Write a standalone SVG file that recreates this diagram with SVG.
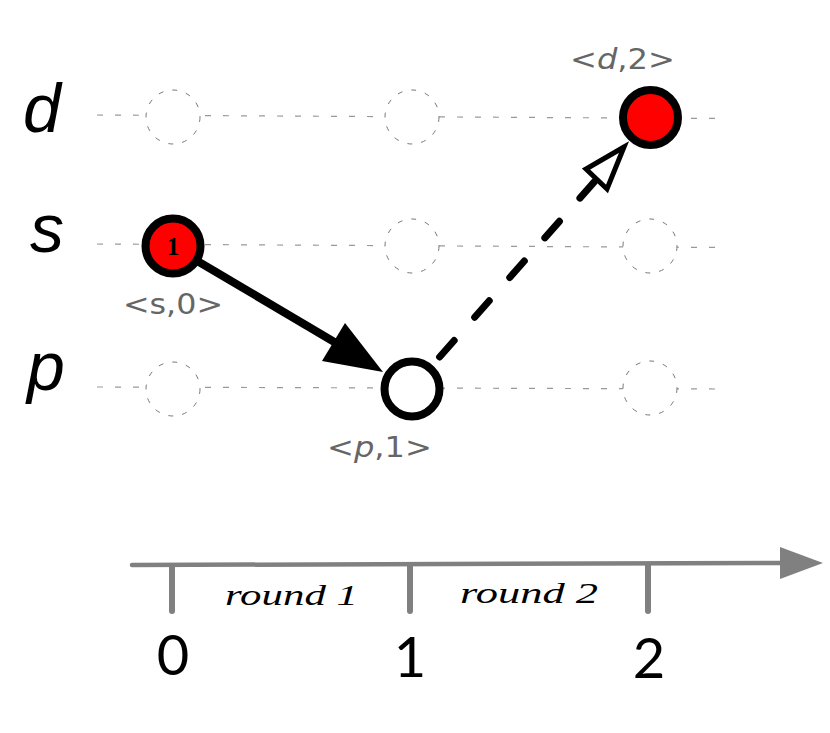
<svg xmlns="http://www.w3.org/2000/svg" width="830" height="733" viewBox="0 0 830 733">
<style>
.grid{stroke:#999;stroke-width:1.2;stroke-dasharray:6 12;fill:none}
.slot{stroke:#777;stroke-width:1;stroke-dasharray:5 9;fill:#fff}
.row{font-family:"Liberation Sans",Arial,sans-serif;font-style:italic;font-size:68px;fill:#000}
.lbl{font-family:"DejaVu Sans","Liberation Sans",sans-serif;font-size:28px;fill:#666}
.num{font-family:Lato,"Liberation Sans",sans-serif;font-weight:400;font-size:56px;fill:#000;text-anchor:middle}
.rnd{font-family:"Liberation Serif","Times New Roman",serif;font-style:italic;font-size:30px;fill:#000}
.axis{stroke:#808080;stroke-linecap:round;fill:none}
.node{stroke:#000;stroke-width:8}
</style>
<g id="grid">
<line class="grid" x1="97" y1="115" x2="720" y2="118.5"/>
<line class="grid" x1="97" y1="244" x2="720" y2="247.5"/>
<line class="grid" x1="97" y1="387" x2="720" y2="389"/>
<circle class="slot" cx="173" cy="117" r="27"/>
<circle class="slot" cx="412" cy="117" r="27"/>
<circle class="slot" cx="412" cy="246" r="27"/>
<circle class="slot" cx="650" cy="246" r="27"/>
<circle class="slot" cx="173" cy="389" r="27"/>
<circle class="slot" cx="650" cy="388" r="27"/>
</g>
<g id="row-labels">
<text class="row" x="23" y="132">d</text>
<text class="row" x="30" y="252">s</text>
<text class="row" x="27" y="390">p</text>
</g>
<g id="connectors">
<line x1="199" y1="262" x2="336" y2="343" stroke="#000" stroke-width="8"/>
<polygon points="383,372 322,361 345,323" fill="#000"/>
<line x1="439.6" y1="357" x2="595" y2="181" stroke="#000" stroke-width="7" stroke-linecap="round" stroke-dasharray="22 31"/>
<polygon points="624,147 586,169 607,189" fill="#fff" stroke="#000" stroke-width="5" stroke-linejoin="miter"/>
</g>
<g id="node-s0">
<circle class="node" cx="173" cy="246" r="27.5" fill="#ff0000"/>
<text x="173" y="255" text-anchor="middle" font-family="'Liberation Serif',serif" font-weight="bold" font-size="25" fill="#000">1</text>
<text class="lbl" x="123" y="314" textLength="100" lengthAdjust="spacingAndGlyphs">&lt;s,0&gt;</text>
</g>
<g id="node-p1">
<circle class="node" cx="412" cy="389" r="27.5" fill="#fff" stroke-width="7"/>
<text class="lbl" x="327" y="457" textLength="105" lengthAdjust="spacingAndGlyphs">&lt;<tspan font-style="italic">p</tspan>,1&gt;</text>
</g>
<g id="node-d2">
<circle class="node" cx="650.5" cy="117.5" r="27.5" fill="#ff0000"/>
<text class="lbl" x="570" y="69" textLength="105" lengthAdjust="spacingAndGlyphs">&lt;<tspan font-style="italic">d</tspan>,2&gt;</text>
</g>
<g id="axis">
<line class="axis" x1="132" y1="565" x2="785" y2="563" stroke-width="4.5"/>
<polygon points="780,547 823,563 780,579" fill="#808080"/>
<line class="axis" x1="172" y1="566" x2="172" y2="611" stroke-width="6"/>
<line class="axis" x1="410" y1="566" x2="410" y2="611" stroke-width="6"/>
<line class="axis" x1="648" y1="565" x2="648" y2="611" stroke-width="6"/>
<text class="rnd" x="225" y="605" textLength="133" lengthAdjust="spacingAndGlyphs">round 1</text>
<text class="rnd" x="460" y="603" textLength="138" lengthAdjust="spacingAndGlyphs">round 2</text>
<text class="num" x="173" y="675">0</text>
<text class="num" x="410" y="677">1</text>
<text class="num" x="649" y="678">2</text>
</g>
</svg>
